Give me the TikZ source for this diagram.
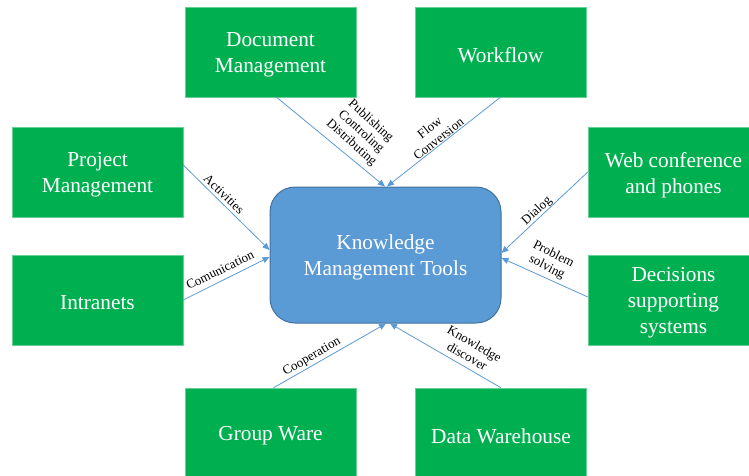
\documentclass[tikz,border=0pt]{standalone}
\usepackage{fontspec}
\setmainfont{Liberation Serif}
\usetikzlibrary{arrows.meta,calc}
\definecolor{kgreen}{HTML}{00B050}
\definecolor{kblue}{HTML}{5B9BD5}
\definecolor{kborder}{HTML}{41719C}
\begin{document}
\begin{tikzpicture}[x=1pt,y=-1pt,
  boxtext/.style={text=white,inner sep=0pt,align=center,font=\fontsize{21.3}{26}\selectfont},
  tool/.style={fill=kgreen,draw=kgreen!60!white,line width=0.4pt,minimum width=171pt,minimum height=90pt,inner sep=0pt,
    label={[boxtext,yshift=-3pt]center:#1}},
  hub/.style={fill=kblue,draw=kborder,line width=1pt,rounded corners=25pt,minimum width=231pt,minimum height=136pt,inner sep=0pt,
    label={[boxtext,yshift=-2pt]center:#1}},
  flowarrow/.style={draw=kblue,line width=0.8pt,-{Triangle[length=7pt,width=6pt]}},
  elabel/.style={inner sep=0pt,align=center,text=black,font=\fontsize{13}{14.5}\selectfont}]
\useasboundingbox (0,0) rectangle (749,475);
\node[hub={Knowledge\\Management Tools}] (kmt) at (385.5,255) {};
\node[tool={Document\\Management}] (doc) at (270.5,52) {};
\node[tool={Workflow}] (wf) at (500.5,52) {};
\node[tool={Project\\Management}] (pm) at (97.5,172) {};
\node[tool={Intranets}] (intra) at (97.5,300) {};
\node[tool={Web conference\\and phones}] (web) at (673.5,172) {};
\node[tool={Decisions\\supporting\\systems}] (dss) at (673.5,300) {};
\node[tool={Group Ware}] (gw) at (270.5,433) {};
\node[tool={Data Warehouse}] (dw) at (501,433) {};

\draw[flowarrow] ($(doc.south)+(6,0)$) -- ($(kmt.north)+(-0.5,0)$);
\draw[flowarrow] (wf.south) -- ($(kmt.north)+(1.5,0)$);
\draw[flowarrow] ($(pm.east)+(0,-7)$) -- ($(kmt.west)+(0,-5)$);
\draw[flowarrow] (intra.east) -- ($(kmt.west)+(0,2)$);
\draw[flowarrow] (web.west) -- ($(kmt.east)+(0,-2)$);
\draw[flowarrow] ($(dss.west)+(0,-3)$) -- ($(kmt.east)+(0,3)$);
\draw[flowarrow] ($(gw.north)+(3,0)$) -- ($(kmt.south)+(0.5,0)$);
\draw[flowarrow] (dw.north) -- ($(kmt.south)+(4.5,0)$);

\node[elabel,rotate=-42] (lpub) at (361,132) {Publishing\\Controling\\Distributing};
\node[elabel,rotate=38] (lflow) at (434,133) {Flow\\Conversion};
\node[elabel,rotate=-44] (lact) at (224,194) {Activities};
\node[elabel,rotate=26] (lcom) at (220,270) {Comunication};
\node[elabel,rotate=43] (ldia) at (537,211) {Dialog};
\node[elabel,rotate=-27] (lprob) at (550,261) {Problem\\solving};
\node[elabel,rotate=30] (lcoop) at (312,357) {Cooperation};
\node[elabel,rotate=-30] (lknow) at (471,350) {Knowledge\\discover};
\end{tikzpicture}
\end{document}
